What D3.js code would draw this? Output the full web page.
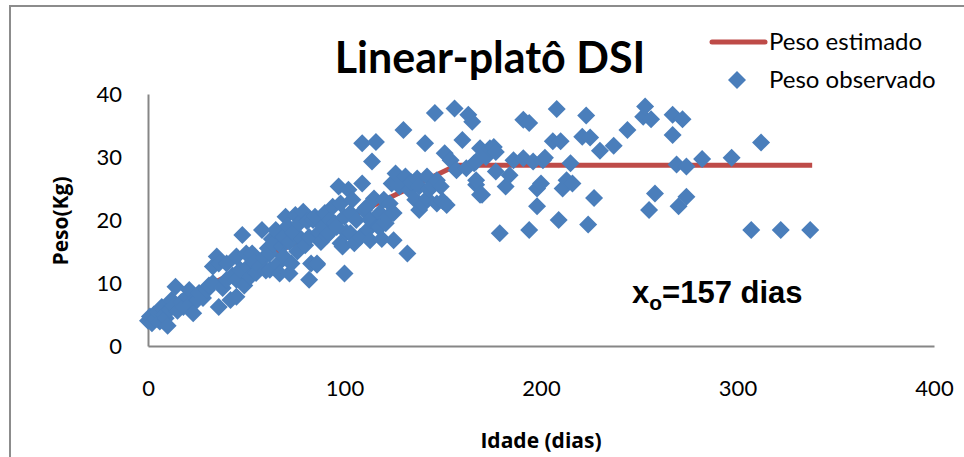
<!DOCTYPE html>
<html>
<head>
<meta charset="utf-8">
<script src="https://cdn.jsdelivr.net/npm/d3@7"></script>
<style>
body{margin:0;background:#fff;}
svg{display:block;}
</style>
</head>
<body>
<div id="chart"></div>
<script>
var idade = [0,1,2,3,4,5,6,7,8,9,10,11,12,13,14,15,17,18,20,21,22,23,25,26,28,30,31,33,33,35,36,36,38,40,40,42,43,45,45,45,47,48,49,50,51,52,53,54,55,57,58,59,60,
  61,62,62,63,64,65,66,67,68,69,69,70,71,72,72,73,74,75,76,77,78,79,80,81,82,82,83,84,85,86,86,87,88,89,90,91,92,93,94,95,96,97,98,98,99,100,100,
  101,102,103,103,104,105,106,108,109,109,110,111,112,113,113,114,115,116,117,118,118,119,120,121,122,123,124,125,125,126,128,130,131,132,133,134,136,137,138,138,140,141,142,142,143,145,146,147,147,149,150,151,152,154,156,157,
  160,162,163,165,166,167,167,167,169,169,170,172,174,176,177,177,179,182,184,186,191,191,194,194,196,198,198,200,201,202,206,208,209,210,211,213,215,216,221,223,224,225,227,230,237,244,252,253,255,256,258,267,267,269,270,272,274,274,282,297,307,312,322,337];
var peso = [4.0,4.7,3.6,5.0,4.3,5.4,3.9,6.2,5.0,4.4,3.2,5.8,7.3,6.4,9.4,5.6,7.0,6.2,7.8,8.9,6.8,5.2,7.3,8.4,7.6,8.9,9.6,10.0,12.6,14.2,13.1,6.2,9.2,10.5,13.1,7.3,11.2,7.8,10.5,14.2,12.1,17.6,9.6,14.7,12.6,11.0,14.7,13.3,11.6,12.6,18.4,14.0,12.0,
  15.5,14.7,12.1,17.0,16.2,18.4,13.0,11.5,15.8,17.3,14.2,20.5,19.0,11.5,16.5,13.1,18.0,20.8,15.0,19.5,17.0,21.3,16.0,19.8,17.3,10.5,13.1,20.0,20.5,13.1,12.9,18.0,16.5,19.0,21.1,17.5,17.9,20.0,22.1,19.5,18.9,25.3,22.6,16.3,15.8,11.5,20.5,
  18.0,24.8,21.1,17.9,23.2,16.3,20.0,17.3,25.8,32.2,21.6,22.0,18.5,16.8,20.0,29.3,23.4,32.4,19.0,21.1,18.9,17.0,23.2,19.5,20.5,22.6,25.8,21.1,16.8,27.4,25.3,34.3,26.9,14.7,24.8,26.0,23.2,26.6,21.6,25.3,22.5,32.2,26.9,23.4,24.8,25.5,37.0,26.3,22.6,25.3,23.0,30.6,22.4,29.5,37.7,27.9,
  32.7,28.2,36.7,35.6,29.0,29.3,25.6,26.3,31.4,24.0,24.0,30.0,31.4,31.6,30.8,27.7,17.9,25.3,27.1,29.5,35.9,29.8,35.4,18.4,29.3,25.0,22.2,25.8,29.5,29.9,32.5,37.6,20.0,32.5,25.0,26.3,29.0,25.8,33.2,36.6,19.3,33.1,23.5,31.0,31.8,34.3,36.4,38.0,21.6,36.0,24.2,36.7,33.5,28.8,22.2,36.0,28.5,23.7,29.7,29.9,18.4,32.3,18.4,18.4];

// estimated linear-plateau curve
var linhaIdade = [0,157,338];
var linhaPeso = [5.0,28.7,28.7];

var xTicks = [0,100,200,300,400];
var yTicks = [0,10,20,30,40];

var width = 964, height = 457;
var azul = "#4A7EBB", vermelho = "#BE4B48";

var svg = d3.select("#chart").append("svg")
    .attr("width", width)
    .attr("height", height);

// chart area border (cut at right/bottom)
svg.append("rect")
    .attr("x", 10).attr("y", 6)
    .attr("width", 980).attr("height", 480)
    .attr("fill", "none")
    .attr("stroke", "#8c8c8c")
    .attr("stroke-width", 2);

var x = d3.scaleLinear().domain([0,400]).range([148,934]);
var y = d3.scaleLinear().domain([0,40]).range([346,94]);

// axes
var gx = svg.append("g")
    .attr("transform", "translate(0,346)")
    .call(d3.axisBottom(x).tickValues(xTicks).tickSize(0).tickPadding(34));
var gy = svg.append("g")
    .attr("transform", "translate(148,0)")
    .call(d3.axisLeft(y).tickValues(yTicks).tickSize(0).tickPadding(26));

[gx, gy].forEach(function(g) {
    g.select(".domain").attr("stroke", "#868686").attr("stroke-width", 2);
    g.selectAll("text")
        .attr("font-family", "Lato, sans-serif")
        .attr("font-size", 22)
        .attr("fill", "#000");
});

// estimated line
var line = d3.line()
    .x(function(d) { return x(d[0]); })
    .y(function(d) { return y(d[1]); });
svg.append("path")
    .datum(d3.zip(linhaIdade, linhaPeso))
    .attr("d", line)
    .attr("fill", "none")
    .attr("stroke", vermelho)
    .attr("stroke-width", 5);

// observed points
var diamond = d3.symbol().type(d3.symbolSquare).size(162);
svg.selectAll(".ponto")
    .data(d3.zip(idade, peso))
  .enter().append("path")
    .attr("class", "ponto")
    .attr("d", diamond)
    .attr("fill", azul)
    .attr("transform", function(d) {
        return "translate(" + x(d[0]) + "," + y(d[1]) + ") rotate(45)";
    });

// title
svg.append("text")
    .attr("x", 490).attr("y", 73)
    .attr("text-anchor", "middle")
    .attr("font-family", "Lato, sans-serif")
    .attr("font-weight", "bold")
    .attr("font-size", 43)
    .text("Linear-platô DSI");

// axis titles
svg.append("text")
    .attr("transform", "translate(68,221) rotate(-90)")
    .attr("text-anchor", "middle")
    .attr("font-family", "Open Sans, sans-serif")
    .attr("font-weight", "bold")
    .attr("font-size", 21)
    .text("Peso(Kg)");
svg.append("text")
    .attr("x", 541).attr("y", 448)
    .attr("text-anchor", "middle")
    .attr("font-family", "Open Sans, sans-serif")
    .attr("font-weight", "bold")
    .attr("font-size", 21)
    .text("Idade (dias)");

// annotation
var nota = svg.append("text")
    .attr("x", 632).attr("y", 303)
    .attr("font-family", "Liberation Sans, Arial, sans-serif")
    .attr("font-weight", "bold")
    .attr("font-size", 31);
nota.append("tspan").text("x");
nota.append("tspan").attr("font-size", 21).attr("dy", 7).text("o");
nota.append("tspan").attr("dy", -7).text("=157 dias");

// legend
svg.append("line")
    .attr("x1", 712).attr("x2", 765)
    .attr("y1", 42).attr("y2", 42)
    .attr("stroke", vermelho)
    .attr("stroke-width", 5)
    .attr("stroke-linecap", "round");
svg.append("path")
    .attr("d", diamond)
    .attr("fill", azul)
    .attr("transform", "translate(737,80) rotate(45)");
svg.append("text")
    .attr("x", 769).attr("y", 42).attr("dy", "0.35em")
    .attr("font-family", "Lato, sans-serif")
    .attr("font-size", 24)
    .text("Peso estimado");
svg.append("text")
    .attr("x", 769).attr("y", 80).attr("dy", "0.35em")
    .attr("font-family", "Lato, sans-serif")
    .attr("font-size", 24)
    .text("Peso observado");
</script>
</body>
</html>
